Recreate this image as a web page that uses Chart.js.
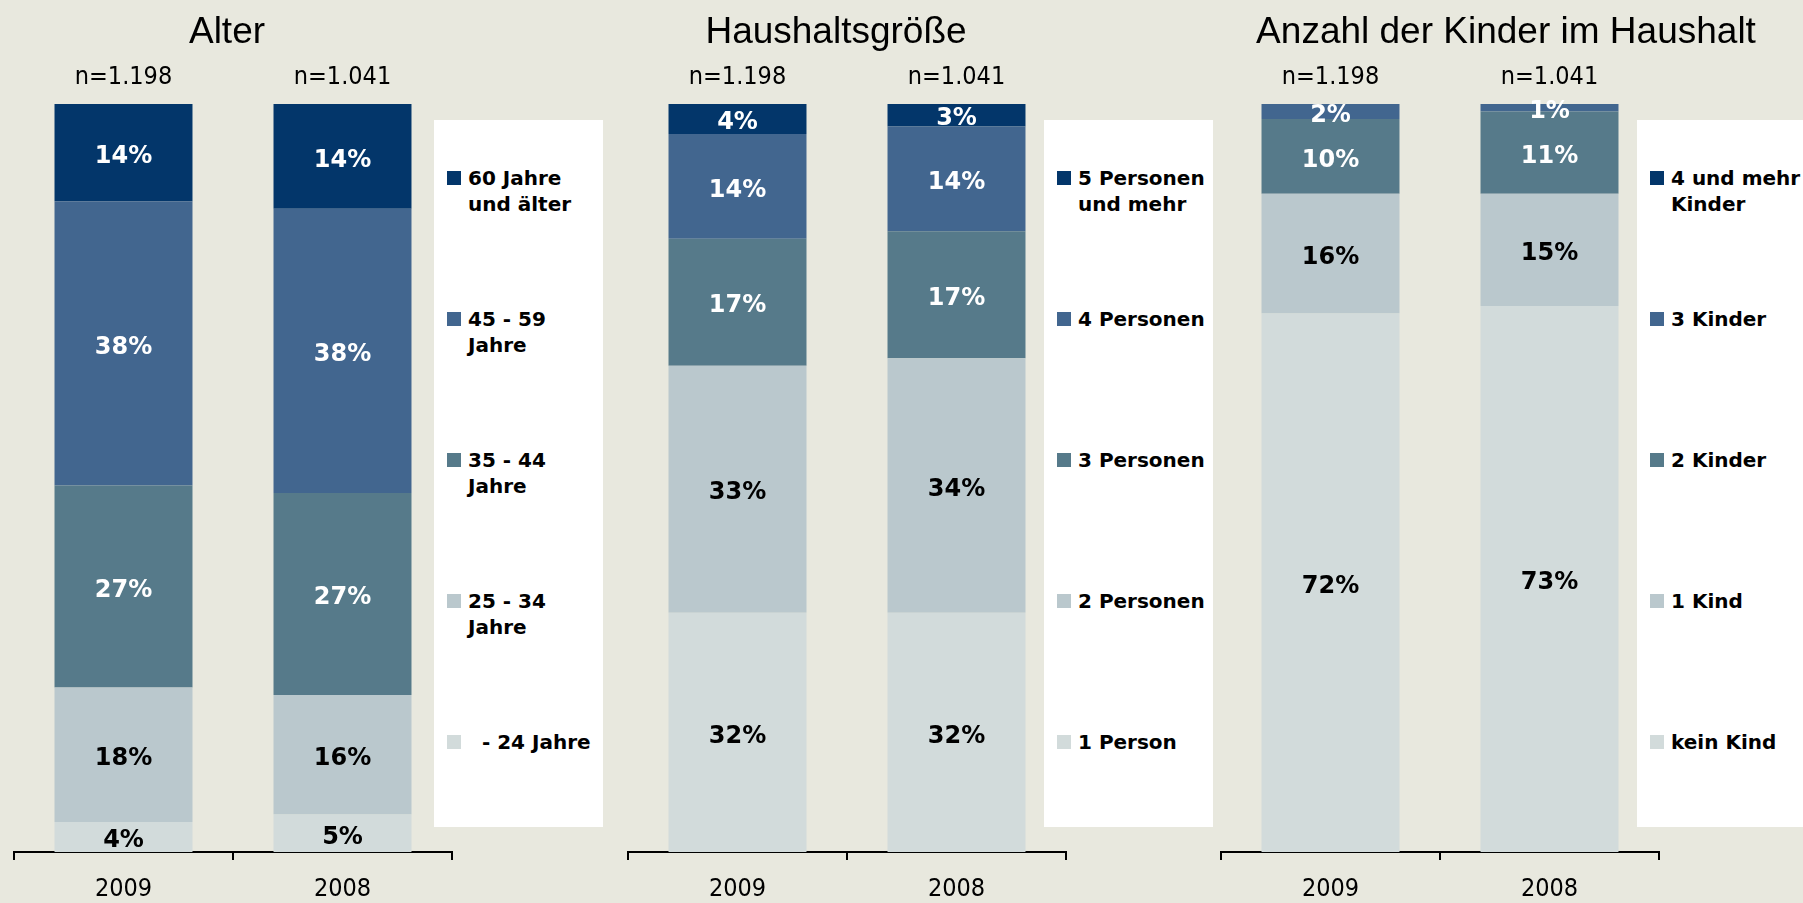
<!DOCTYPE html>
<html lang="de">
<head>
<meta charset="utf-8">
<title>Alter, Haushaltsgröße, Kinder im Haushalt</title>
<script src="https://cdn.jsdelivr.net/npm/chart.js@4.4.1/dist/chart.umd.min.js"></script>
<style>
    html, body { margin: 0; padding: 0; background: #E8E8DE; }
    #stage { position: relative; width: 1803px; height: 903px; overflow: hidden; }
    .panel { position: absolute; top: 0; height: 903px; }
    .legend-box {
        position: absolute; top: 120px; height: 707px; background: #fff;
        font: bold 20px "DejaVu Sans", sans-serif; color: #000; z-index: 2;
    }
    .legend-item { position: absolute; left: 34px; line-height: 26px; white-space: pre; }
    .legend-item .swatch { position: absolute; left: -21px; top: 6px; width: 14px; height: 14px; }
</style>
</head>
<body>
<div id="stage">
    <div class="panel" style="left:0px;width:454px"><canvas id="chart-alter" width="454" height="903"></canvas></div>
    <div class="panel" style="left:604px;width:464px"><canvas id="chart-haushalt" width="464" height="903"></canvas></div>
    <div class="panel" style="left:1213px;width:586px"><canvas id="chart-kinder" width="586" height="903"></canvas></div>
    <div class="legend-box" id="legend-alter" style="left:434px;width:169px"></div>
    <div class="legend-box" id="legend-haushalt" style="left:1044px;width:169px"></div>
    <div class="legend-box" id="legend-kinder" style="left:1637px;width:170px"></div>
</div>
<script>
    // Jahre und Stichproben
    const years = ['2009', '2008'];
    const sampleSizes = ['n=1.198', 'n=1.041'];

    // Reihenfolge jeweils von unten nach oben im Balken
    const alterGroups = ['  - 24 Jahre', '25 - 34\nJahre', '35 - 44\nJahre', '45 - 59\nJahre', '60 Jahre\nund älter'];
    const alterValues = [[4, 5], [18, 16], [27, 27], [38, 38], [14, 14]];

    const haushaltGroups = ['1 Person', '2 Personen', '3 Personen', '4 Personen', '5 Personen\nund mehr'];
    const haushaltValues = [[32, 32], [33, 34], [17, 17], [14, 14], [4, 3]];

    const kinderGroups = ['kein Kind', '1 Kind', '2 Kinder', '3 Kinder', '4 und mehr\nKinder'];
    const kinderValues = [[72, 73], [16, 15], [10, 11], [2, 1], [0, 0.3]];

    const segmentColors = ['#D2DBDB', '#BAC8CD', '#567A8A', '#42668F', '#03366A'];
    const labelColors = ['#000', '#000', '#fff', '#fff', '#fff'];

    const axisFont = '"DejaVu Sans Condensed", "DejaVu Sans", sans-serif';
    const titleFont = '"Liberation Sans", Arial, sans-serif';

    const segmentLabels = {
        id: 'segmentLabels',
        afterDatasetsDraw(chart) {
            const ctx = chart.ctx;
            const area = chart.chartArea;
            ctx.save();
            ctx.font = 'bold 24px "DejaVu Sans", sans-serif';
            ctx.textAlign = 'center';
            ctx.textBaseline = 'middle';
            chart.data.datasets.forEach((ds, i) => {
                const meta = chart.getDatasetMeta(i);
                meta.data.forEach((bar, j) => {
                    const v = ds.data[j];
                    if (v < 1) return;
                    const top = Math.max(bar.y, area.top);
                    ctx.fillStyle = ds.labelColor;
                    ctx.fillText(v + '%', bar.x, (top + bar.base) / 2 + 4);
                });
            });
            ctx.restore();
        }
    };

    function buildLegend(boxId, groups) {
        const box = document.getElementById(boxId);
        // oberste Gruppe zuerst
        groups.slice().reverse().forEach((name, i) => {
            const item = document.createElement('div');
            item.className = 'legend-item';
            item.style.top = (45 + i * 141) + 'px';
            const sw = document.createElement('span');
            sw.className = 'swatch';
            sw.style.background = segmentColors[groups.length - 1 - i];
            item.appendChild(sw);
            item.appendChild(document.createTextNode(name));
            box.appendChild(item);
        });
    }

    // unsichtbare Achse, die nur Platz links/rechts freihält
    function spacerAxis(position, width) {
        return {
            type: 'linear',
            position: position,
            display: true,
            grid: { display: false, drawTicks: false },
            border: { display: false },
            ticks: { display: false },
            afterFit: s => { s.width = width; }
        };
    }

    function buildChart(canvasId, title, groups, values, padLeft, padRight) {
        const datasets = groups.map((g, i) => ({
            label: g.replace('\n', ' ').trim(),
            data: values[i],
            backgroundColor: segmentColors[i],
            labelColor: labelColors[i],
            barPercentage: 0.63,
            categoryPercentage: 1,
            clip: 0
        }));

        const y = spacerAxis('left', padLeft);
        y.stacked = true;
        y.min = 0;
        y.max = 100;

        return new Chart(document.getElementById(canvasId), {
            type: 'bar',
            data: { labels: years, datasets: datasets },
            options: {
                responsive: false,
                animation: false,
                layout: { padding: 0 },
                plugins: {
                    legend: { display: false },
                    tooltip: { enabled: false },
                    title: {
                        display: true,
                        text: title,
                        color: '#000',
                        font: { family: titleFont, size: 37, weight: 'normal', lineHeight: 1.2 },
                        padding: { top: 11, bottom: 0 }
                    }
                },
                scales: {
                    x: {
                        stacked: true,
                        offset: true,
                        grid: { offset: true, drawOnChartArea: false, drawTicks: true, tickLength: 8, color: '#000', lineWidth: 2 },
                        border: { display: true, color: '#000', width: 2 },
                        ticks: { color: '#000', font: { family: axisFont, size: 25 }, padding: 14 },
                        afterFit: s => { s.height = 51; }
                    },
                    n: {
                        type: 'category',
                        position: 'top',
                        labels: sampleSizes,
                        offset: true,
                        grid: { display: false, drawTicks: false },
                        border: { display: false },
                        ticks: { color: '#000', font: { family: axisFont, size: 25 }, padding: 12 },
                        afterFit: s => { s.height = 48.6; }
                    },
                    y: y,
                    yr: spacerAxis('right', padRight)
                }
            },
            plugins: [segmentLabels]
        });
    }

    buildChart('chart-alter', 'Alter', alterGroups, alterValues, 14, 2);
    buildChart('chart-haushalt', 'Haushaltsgröße', haushaltGroups, haushaltValues, 24, 2);
    buildChart('chart-kinder', 'Anzahl der Kinder im Haushalt', kinderGroups, kinderValues, 8, 140);

    buildLegend('legend-alter', alterGroups);
    buildLegend('legend-haushalt', haushaltGroups);
    buildLegend('legend-kinder', kinderGroups);
</script>
</body>
</html>
